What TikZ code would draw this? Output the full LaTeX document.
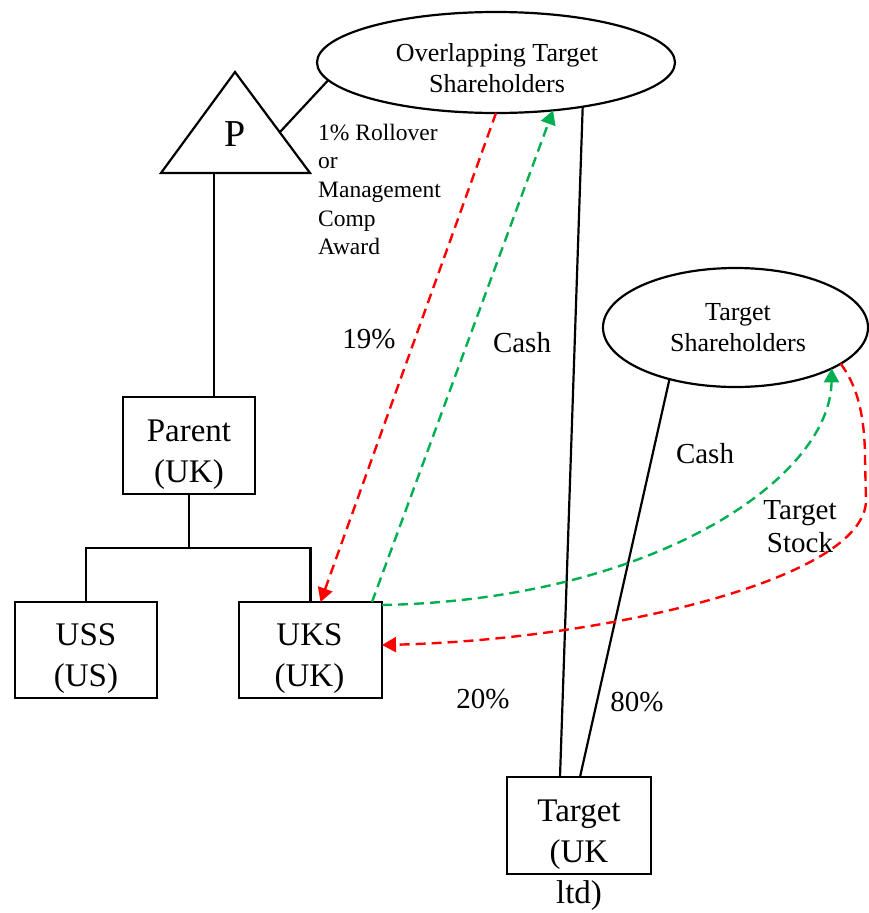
\documentclass[tikz,border=0pt]{standalone}
\usepackage{fontspec}
\setmainfont{Liberation Serif}
\usetikzlibrary{shapes.geometric,arrows.meta}
\definecolor{offgreen}{RGB}{0,176,80}
\definecolor{offred}{RGB}{255,0,0}
\begin{document}
\begin{tikzpicture}[x=1pt,y=-1pt,
  ln/.style={line width=2.2pt},
  boxn/.style={draw, line width=2.2pt, inner sep=0pt, outer sep=0pt},
  ell/.style={ellipse, draw, line width=2.2pt, inner sep=0pt, outer sep=0pt},
  btxt/.style={font=\fontsize{33}{41}\selectfont, align=center, inner sep=0pt},
  etxt/.style={font=\fontsize{26}{31}\selectfont, align=center, inner sep=0pt},
  lbl/.style={font=\fontsize{29}{33}\selectfont, align=center, inner sep=0pt},
  stxt/.style={font=\fontsize{23.5}{28.7}\selectfont, align=left, inner sep=0pt},
  tip/.style={-{Triangle[length=14pt,width=15pt]}},
  rd/.style={draw=offred, line width=2.4pt, dash pattern=on 10pt off 6pt, tip},
  gd/.style={draw=offgreen, line width=2.4pt, dash pattern=on 10pt off 6pt, tip},
]
\path[use as bounding box] (0,0) rectangle (868,913);

% ellipses
\node[ell, minimum width=358pt, minimum height=101pt] (ov) at (496,62.5) {};
\node[etxt] (ovt) at (497,68.6) {Overlapping Target\\Shareholders};
\node[ell, minimum width=265pt, minimum height=119pt] (ts) at (735.5,327.5) {};
\node[etxt] (tst) at (738,328.1) {Target\\Shareholders};

% triangle P
\coordinate (ptop) at (235,72);
\coordinate (pbr) at (310,173);
\coordinate (pbl) at (161,173);
\coordinate (pside) at (280,132);
\coordinate (pbase) at (214,173);
\draw[ln, line join=miter] (ptop) -- (pbr) -- (pbl) -- cycle;
\node[font=\fontsize{38}{44}\selectfont, inner sep=0pt, anchor=base] (p) at (235,146.7) {P};

% boxes
\node[boxn, minimum width=132pt, minimum height=97pt] (parent) at (189,445.5) {};
\node[btxt] (parentt) at (189,455.2) {Parent\\(UK)};
\node[boxn, minimum width=142pt, minimum height=96pt] (uss) at (86,650) {};
\node[btxt] (usst) at (86,658.2) {USS\\(US)};
\node[boxn, minimum width=143pt, minimum height=96pt] (uks) at (310.5,650) {};
\node[btxt] (ukst) at (309.5,658.2) {UKS\\(UK)};
\node[boxn, minimum width=144pt, minimum height=97pt] (tgt) at (579,825.5) {};
\node[btxt] (tgtt) at (579,855.6) {Target\\(UK\\ltd)};

% small text
\node[stxt, anchor=west] (roll) at (318,189.4) {1\% Rollover\\or\\Management\\Comp\\Award};

% labels
\node[lbl, anchor=base] (l19) at (369,348) {19\%};
\node[lbl, anchor=base] (lcash1) at (522,352) {Cash};
\node[lbl, anchor=base] (lcash2) at (705,463) {Cash};
\node[lbl] (lstock) at (800,526.9) {Target\\Stock};
\node[lbl, anchor=base] (l20) at (483,708) {20\%};
\node[lbl, anchor=base] (l80) at (637,711) {80\%};

% solid connectors
\draw[ln] (ov.186) -- (pside);
\draw[ln] (pbase) -- (pbase |- parent.north);
\draw[ln] (parent.south) -- ++(0,54);
\draw[ln] (uss.north) -- ++(0,-54) -| (uks.north);
\draw[ln] (ov.-27) -- ([xshift=-19pt]tgt.north);
\draw[ln] (ts.218) -- ([xshift=1pt]tgt.north);

% dashed arrows
\draw[rd] (ov.south) -- ([xshift=10pt]uks.north);
\draw[gd] ([xshift=-10pt]uks.north east) -- (ov.-40);
\draw[gd] ([yshift=-3pt]uks.north east) .. controls (650,600) and (830,480) .. (ts.-23);
\draw[rd] (ts.-19) .. controls (855,383) and (865,410) .. (865,460) -- (866,500)
  .. controls (866,580) and (600,640) .. ([yshift=5pt]uks.east);
\end{tikzpicture}
\end{document}
